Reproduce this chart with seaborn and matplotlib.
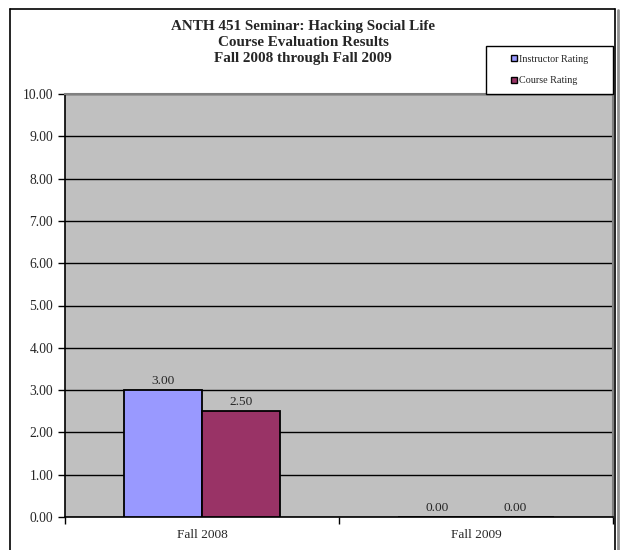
import matplotlib
matplotlib.use("Agg")
import matplotlib.pyplot as plt
from matplotlib.lines import Line2D
from matplotlib.patches import Rectangle
import pandas as pd
import seaborn as sns

# Course evaluation scores per term
terms = ["Fall 2008", "Fall 2009"]
instructor_rating = [3.00, 0.00]
course_rating = [2.50, 0.00]
series_names = ["Instructor Rating", "Course Rating"]
y_ticks = [0, 1, 2, 3, 4, 5, 6, 7, 8, 9, 10]

df = pd.DataFrame({
    "Term": terms * 2,
    "Rating": instructor_rating + course_rating,
    "Series": [series_names[0]] * len(terms) + [series_names[1]] * len(terms),
})

sns.set_theme(style="white")
plt.rcParams["font.family"] = ["Liberation Serif", "DejaVu Serif"]

W, H = 623, 550
fig = plt.figure(figsize=(W / 100, H / 100), dpi=100)
fig.patch.set_facecolor("white")

ax = fig.add_axes([65 / W, 1 - 517 / H, (613 - 65) / W, (517 - 94) / H])
ax.set_facecolor("#C0C0C0")

palette = {"Instructor Rating": "#9999FF", "Course Rating": "#993366"}
sns.barplot(data=df, x="Term", y="Rating", hue="Series", palette=palette,
            width=0.572, edgecolor="black", linewidth=1.3, saturation=1,
            ax=ax, legend=False, zorder=3)

ax.set_ylim(0, 10)
ax.set_xlim(-0.5, 1.5)
ax.set_yticks(y_ticks)
ax.set_yticklabels([f"{v:.2f}" for v in y_ticks], fontsize=9.8)
ax.yaxis.grid(True, color="black", linewidth=1.0, zorder=1)
ax.set_axisbelow(True)
ax.set_xlabel("")
ax.set_ylabel("")
ax.tick_params(axis="y", direction="out", length=5, width=1, color="black",
               pad=3.5, left=True)
ax.tick_params(axis="x", which="major", length=0, pad=9, labelsize=9.6)
ax.set_xticks([-0.5, 0.5, 1.5], minor=True)
ax.tick_params(axis="x", which="minor", direction="out", length=5, width=1,
               color="black", bottom=True)

for side in ["left", "bottom"]:
    ax.spines[side].set_color("black")
    ax.spines[side].set_linewidth(1.2)
for side in ["top", "right"]:
    ax.spines[side].set_color("#808080")
    ax.spines[side].set_linewidth(1.5)

for cont in ax.containers:
    ax.bar_label(cont, fmt="%.2f", fontsize=9.6, padding=2)

# Title
fig.text(303 / W, 1 - 20 / H,
         "ANTH 451 Seminar: Hacking Social Life\nCourse Evaluation Results\nFall 2008 through Fall 2009",
         ha="center", va="top", fontsize=10.9, fontweight="bold", linespacing=1.32)

# Legend box
fig.patches.append(Rectangle((486 / W, 1 - 94 / H), (613 - 486) / W, (94 - 46) / H,
                             transform=fig.transFigure, facecolor="white",
                             edgecolor="black", linewidth=1, zorder=5))
handles = [Rectangle((0, 0), 1, 1, facecolor=palette[s], edgecolor="black", linewidth=1)
           for s in series_names]
leg = fig.legend(handles, series_names, loc="center",
                 bbox_to_anchor=(549.5 / W, 1 - 70 / H), frameon=False,
                 fontsize=7.3, handlelength=0.6, handleheight=0.6,
                 handletextpad=0.15, labelspacing=1.25, borderpad=0.0)
leg.set_zorder(6)

# Outer chart frame
frame_kw = dict(transform=fig.transFigure, color="black", linewidth=1.2)
fig.add_artist(Line2D([10 / W, 615 / W], [1 - 9 / H, 1 - 9 / H], **frame_kw))
fig.add_artist(Line2D([10 / W, 10 / W], [1 - 9 / H, -0.01], **frame_kw))
fig.add_artist(Line2D([615 / W, 615 / W], [1 - 9 / H, -0.01], **frame_kw))
fig.add_artist(Line2D([617.5 / W, 617.5 / W], [1 - 10 / H, -0.01],
                      transform=fig.transFigure, color="#909090", linewidth=2))

fig.savefig("out.png", dpi=100, facecolor="white")
